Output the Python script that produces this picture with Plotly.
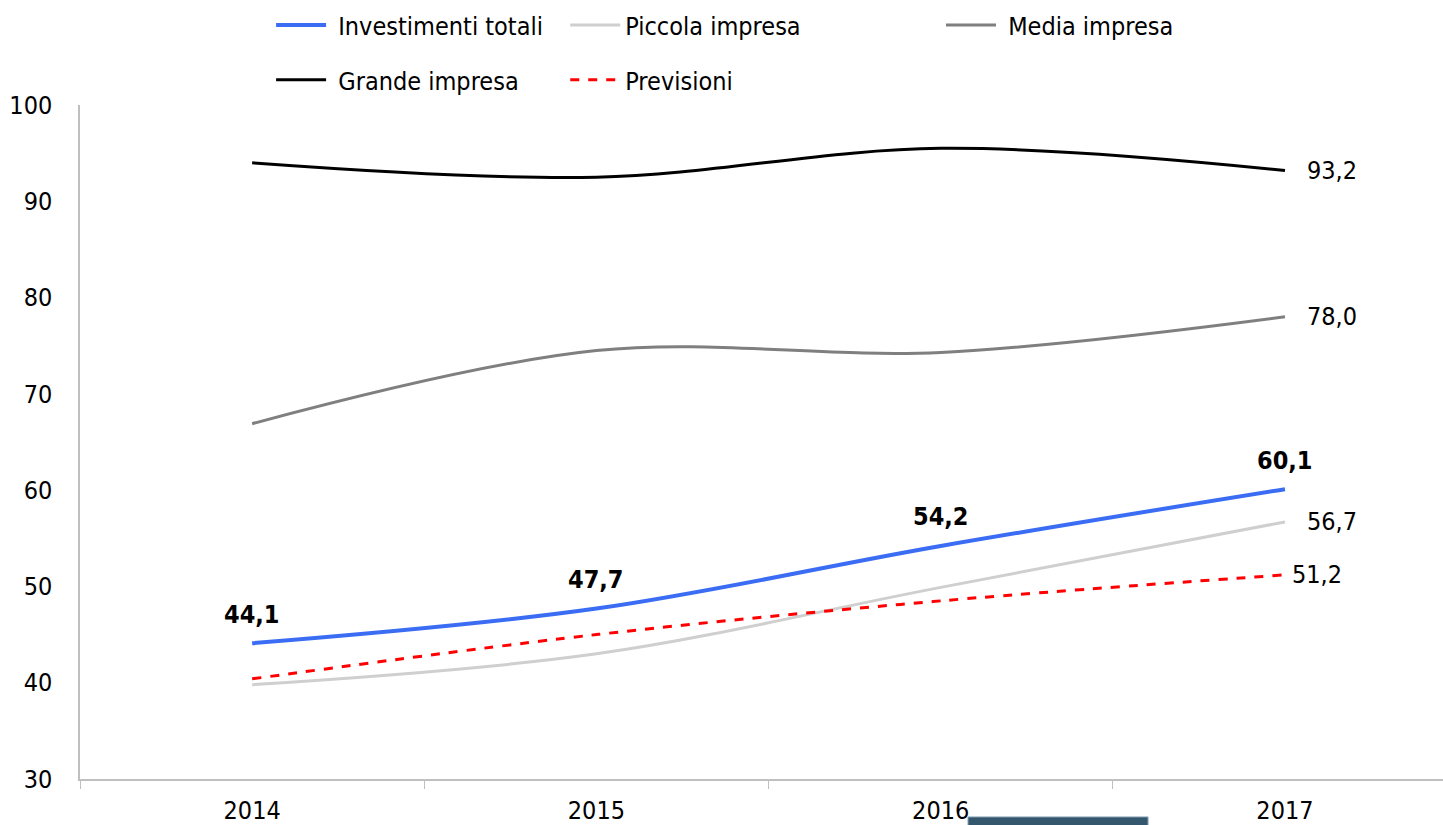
import plotly.graph_objects as go

# Quota di imprese che investono (%), 2014-2017
anni = ["2014", "2015", "2016", "2017"]
investimenti_totali = [44.1, 47.7, 54.2, 60.1]
piccola_impresa = [39.8, 43.0, 49.9, 56.7]
media_impresa = [66.9, 74.5, 74.3, 78.0]
grande_impresa = [94.0, 92.5, 95.5, 93.2]
previsioni = [40.4, 45.0, 48.5, 51.2]

y_ticks = [30, 40, 50, 60, 70, 80, 90, 100]

FONT = "Tahoma, 'DejaVu Sans Condensed', 'DejaVu Sans', sans-serif"
FS = 25
NB = "\u00a0"  # small gap between legend symbol and label


def fmt(v):
    return f"{v:.1f}".replace(".", ",")


# name, values, line style, legend block, extra gap before the legend label
series = [
    ("Investimenti totali", investimenti_totali, dict(color="#3a6cf4", width=4), "legend", NB),
    ("Piccola impresa", piccola_impresa, dict(color="#cfcfcf", width=3), "legend2", ""),
    ("Media impresa", media_impresa, dict(color="#7f7f7f", width=3), "legend3", NB),
    ("Grande impresa", grande_impresa, dict(color="#000000", width=3), "legend4", NB),
    ("Previsioni", previsioni, dict(color="#ff0000", width=3, dash="dash"), "legend5", ""),
]

fig = go.Figure()
for name, vals, line, leg, pad in series:
    fig.add_trace(go.Scatter(
        x=anni, y=vals, name=pad + name, mode="lines",
        line=dict(shape="spline", smoothing=1, **line),
        legend=leg, hoverinfo="x+y+name",
    ))

# Bold value labels above the total-investment line
for i, v in enumerate(investimenti_totali):
    fig.add_annotation(x=i, y=v, xref="x", yref="y", text=f"<b>{fmt(v)}</b>",
                       showarrow=False, yshift=29,
                       font=dict(family=FONT, size=FS, color="#000"))

# Final-year labels to the right of the other series
last = len(anni) - 1
for vals, xs in [(piccola_impresa, 20), (media_impresa, 20), (grande_impresa, 20), (previsioni, 5)]:
    fig.add_annotation(x=last, y=vals[-1], xref="x", yref="y", text=fmt(vals[-1]),
                       showarrow=False, xanchor="left", xshift=xs,
                       font=dict(family=FONT, size=FS, color="#000"))

# Legend blocks: two rows, three columns
leg_pos = {
    "legend": (0.1402, 1.1185),
    "legend2": (0.356, 1.1185),
    "legend3": (0.6317, 1.1185),
    "legend4": (0.1402, 1.037),
    "legend5": (0.356, 1.037),
}
legends = {}
for key, (lx, ly) in leg_pos.items():
    legends[key] = dict(x=lx, y=ly, xanchor="left", yanchor="middle",
                        orientation="v", bgcolor="rgba(0,0,0,0)", borderwidth=0,
                        itemwidth=50, font=dict(family=FONT, size=FS, color="#000"))

fig.update_layout(
    autosize=True,
    margin=dict(l=80, r=0, t=105, b=45),
    paper_bgcolor="white", plot_bgcolor="white",
    font=dict(family=FONT, size=FS, color="#000"),
    showlegend=True,
    **legends,
)

fig.update_xaxes(
    type="category", range=[-0.5, 3.459],
    tickson="boundaries", ticks="outside", ticklen=8, tickcolor="#bfbfbf",
    showline=True, linecolor="#bfbfbf", linewidth=1.5,
    showgrid=False, zeroline=False, ticklabelstandoff=8,
    tickfont=dict(family=FONT, size=FS, color="#000"),
)
fig.update_yaxes(
    range=[30, 100], tickvals=y_ticks, ticks="",
    showline=True, linecolor="#bfbfbf", linewidth=1.5,
    showgrid=False, zeroline=False, ticklabelstandoff=21,
    tickfont=dict(family=FONT, size=FS, color="#000"),
)

# Dark slate bar sitting under the 2016 label
fig.add_shape(type="rect", xref="paper", yref="paper",
              x0=0.6515, x1=0.7836, y0=-0.0563, y1=-0.08,
              fillcolor="#34576e", line=dict(color="#8aa5b8", width=1))

fig.write_html("out.html")
